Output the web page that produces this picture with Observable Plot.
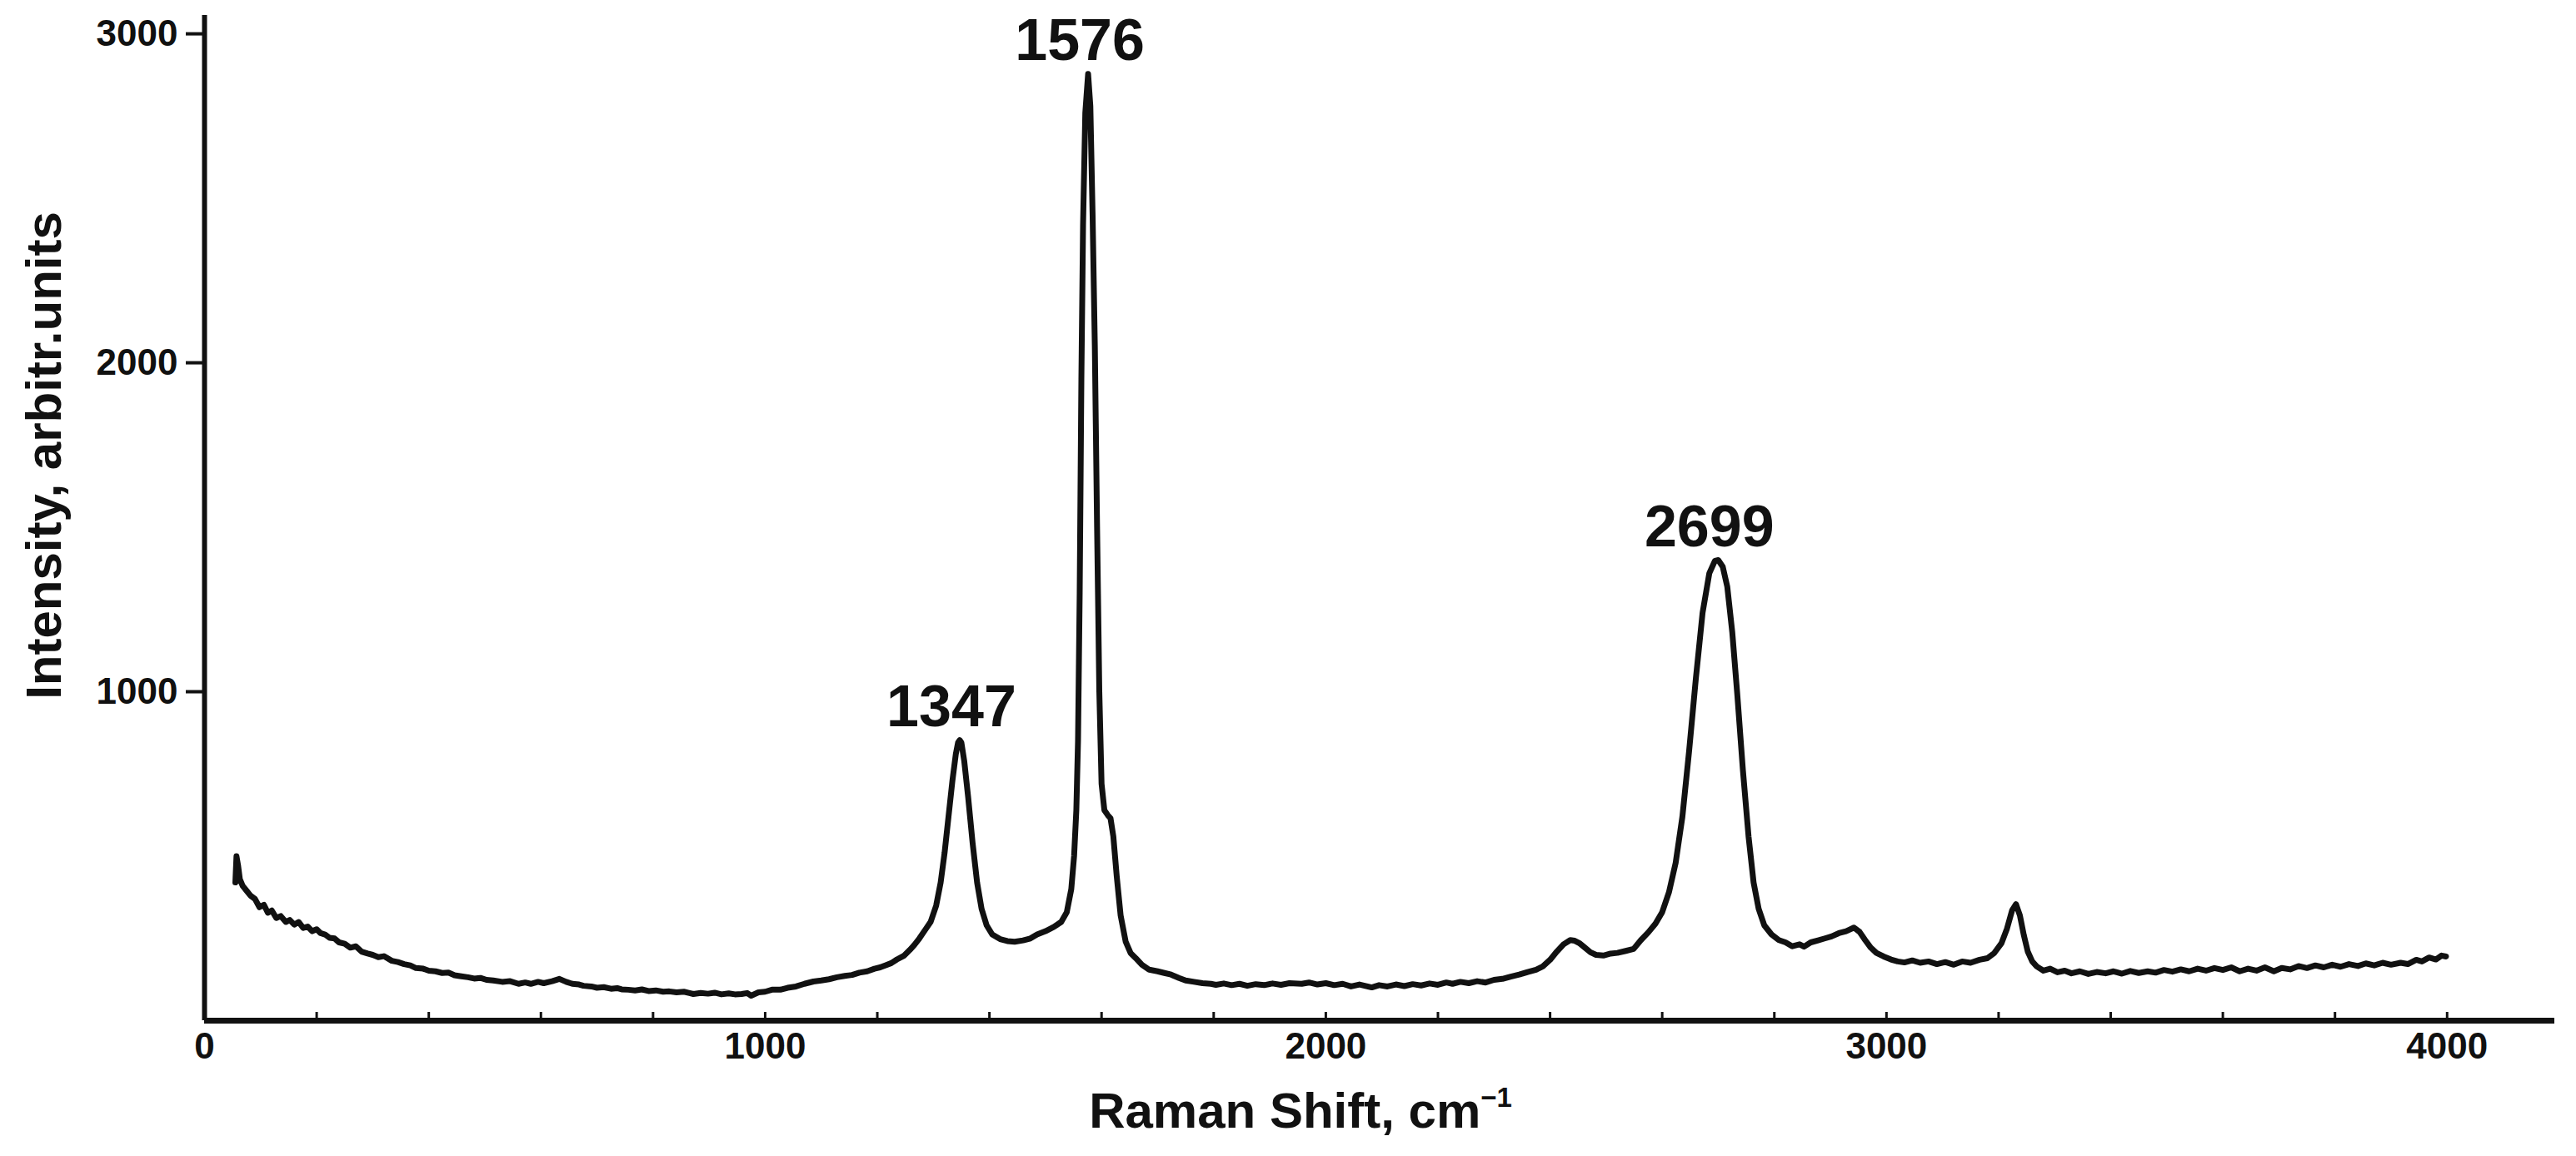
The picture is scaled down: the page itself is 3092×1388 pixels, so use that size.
<!DOCTYPE html>
<html>
<head>
<meta charset="utf-8">
<script src="https://cdn.jsdelivr.net/npm/d3@7"></script>
<script src="https://cdn.jsdelivr.net/npm/@observablehq/plot@0.6"></script>
<style>
  html, body { margin: 0; padding: 0; background: #fff; }
  #chart { width: 3092px; height: 1388px; }
</style>
</head>
<body>
<div id="chart"></div>
<script>
// Raman spectrum: [Raman shift (cm^-1), intensity (arbitr. units)]
const spectrum = [
  [55,420],[57,500],[60,470],[63,430],[68,410],[75,395],[82,380],[90,370],[98,345],[106,352],
  [113,328],[120,335],[128,312],[136,318],[145,300],[152,306],[160,292],[168,300],[176,282],[184,286],
  [192,272],[200,278],[207,266],[215,262],[223,252],[232,250],[240,238],[250,234],[260,222],[270,226],
  [280,210],[291,204],[300,200],[310,193],[320,196],[334,182],[345,178],[356,172],[367,168],[377,160],
  [390,158],[400,152],[412,150],[424,145],[435,146],[446,138],[458,135],[470,132],[481,128],[492,130],
  [503,124],[515,122],[531,118],[545,120],[560,112],[572,116],[582,112],[595,118],[605,114],[620,120],
  [633,127],[645,118],[656,112],[668,110],[676,106],[690,104],[700,100],[712,102],[725,97],[736,99],
  [744,95],[756,94],[768,92],[780,95],[792,90],[805,92],[818,88],[829,89],[842,86],[855,88],
  [865,84],[872,81],[885,84],[898,82],[910,85],[922,80],[935,83],[946,80],[958,81],[968,84],
  [975,76],[988,86],[1000,88],[1012,94],[1027,94],[1040,100],[1055,104],[1070,112],[1086,119],[1100,122],
  [1114,126],[1128,132],[1142,136],[1155,139],[1168,146],[1182,150],[1195,158],[1205,162],[1214,168],[1225,175],
  [1235,186],[1248,198],[1258,215],[1266,230],[1275,250],[1285,275],[1295,300],[1305,350],[1313,420],[1320,510],
  [1327,620],[1334,730],[1340,810],[1344,845],[1347,853],[1350,845],[1355,790],[1362,680],[1370,540],[1378,420],
  [1386,340],[1395,290],[1405,262],[1419,248],[1432,242],[1445,240],[1460,244],[1473,250],[1485,262],[1500,272],
  [1515,285],[1528,300],[1538,330],[1546,400],[1551,500],[1555,640],[1558,850],[1561,1300],[1564,1950],[1567,2420],
  [1571,2760],[1576,2878],[1580,2780],[1584,2450],[1588,2050],[1592,1500],[1596,1000],[1600,720],[1605,640],[1611,625],
  [1616,615],[1621,560],[1627,440],[1634,320],[1643,240],[1652,205],[1661,190],[1672,170],[1685,155],[1700,150],
  [1712,145],[1724,140],[1738,130],[1750,122],[1765,118],[1780,114],[1795,112],[1804,109],[1818,113],[1832,108],
  [1846,112],[1860,106],[1875,111],[1890,108],[1905,113],[1920,109],[1935,114],[1957,112],[1970,116],[1985,110],
  [2000,114],[2015,108],[2030,112],[2045,104],[2060,110],[2082,101],[2095,108],[2110,104],[2125,110],[2140,105],
  [2155,111],[2170,107],[2185,113],[2200,109],[2215,116],[2226,112],[2240,118],[2255,114],[2270,120],[2285,116],
  [2300,124],[2315,127],[2330,134],[2345,140],[2360,148],[2375,155],[2387,165],[2400,185],[2412,210],[2424,232],
  [2436,245],[2444,243],[2452,236],[2462,222],[2472,208],[2482,200],[2495,198],[2508,204],[2520,206],[2535,212],
  [2549,218],[2562,245],[2575,268],[2588,295],[2600,330],[2612,390],[2624,480],[2636,620],[2648,820],[2660,1040],
  [2672,1240],[2684,1360],[2694,1398],[2700,1400],[2708,1380],[2716,1320],[2725,1180],[2734,990],[2744,760],[2754,560],
  [2763,420],[2772,340],[2782,290],[2795,262],[2808,245],[2820,238],[2832,226],[2845,232],[2853,225],[2865,238],
  [2878,244],[2890,250],[2902,256],[2915,266],[2928,272],[2942,283],[2952,270],[2962,245],[2972,222],[2982,206],
  [2995,195],[3008,186],[3020,180],[3032,177],[3046,183],[3060,176],[3075,180],[3090,172],[3105,178],[3120,170],
  [3135,180],[3150,176],[3166,185],[3180,190],[3192,205],[3205,235],[3215,280],[3224,335],[3231,354],[3238,320],
  [3245,260],[3252,210],[3260,180],[3268,165],[3280,152],[3292,158],[3305,147],[3318,152],[3330,144],[3345,150],
  [3360,142],[3375,148],[3391,144],[3405,150],[3420,143],[3435,151],[3450,145],[3466,150],[3480,146],[3495,154],
  [3510,149],[3525,156],[3540,150],[3555,158],[3570,152],[3585,160],[3600,154],[3615,162],[3630,150],[3645,158],
  [3660,152],[3675,162],[3691,150],[3705,160],[3720,156],[3735,166],[3750,160],[3765,168],[3780,162],[3795,170],
  [3810,164],[3825,172],[3841,166],[3855,174],[3870,168],[3885,176],[3900,170],[3917,176],[3930,172],[3945,185],
  [3955,180],[3968,192],[3980,186],[3990,198],[3998,195]
];

// Peak annotations
const peakShift = [1347, 1576, 2699];
const peakIntensity = [853, 2878, 1400];
const peakLabel = ["1347", "1576", "2699"];

// Axis ticks
const xTickLabels = [0, 1000, 2000, 3000, 4000];
const xMinorTicks = d3.range(200, 4001, 200);
const yTickLabels = [1000, 2000, 3000];

const xTitle = "Raman Shift, cm";
const xTitleSup = "\u22121";
const yTitle = "Intensity, arbitr.units";

const data = spectrum.map(([x, y]) => ({x, y}));
const peaks = peakShift.map((x, i) => ({x, y: peakIntensity[i], label: peakLabel[i]}));

const W = 3092, H = 1388;
const mL = 245, mR = 26, mT = 18, mB = 163;
const frameH = H - mT - mB;

const plot = Plot.plot({
  width: W,
  height: H,
  marginLeft: mL,
  marginRight: mR,
  marginTop: mT,
  marginBottom: mB,
  style: {fontFamily: "'Liberation Sans', Arial, Helvetica, sans-serif", color: "#111", background: "#fff"},
  x: {domain: [0, 4192]},
  y: {domain: [0, 3056]},
  marks: [
    Plot.ruleX([0], {stroke: "#111", strokeWidth: 6}),
    Plot.ruleY([0], {stroke: "#111", strokeWidth: 7}),
    Plot.tickX(xMinorTicks, {x: d => d, stroke: "#111", strokeWidth: 3, insetTop: frameH - 10}),
    Plot.axisX({ticks: xTickLabels, tickSize: 0, tickPadding: 14, tickFormat: d3.format("d"),
      fontSize: 44, fontWeight: "bold", label: null}),
    Plot.axisY({ticks: yTickLabels, tickSize: 22, tickPadding: 10, tickFormat: d3.format("d"),
      fontSize: 44, fontWeight: "bold", strokeWidth: 4, label: null}),
    Plot.line(data, {x: "x", y: "y", stroke: "#111", strokeWidth: 7, strokeLinejoin: "round"}),
    Plot.text(peaks, {x: "x", y: "y", text: "label", dx: -10, dy: -17, lineAnchor: "bottom",
      fontSize: 70, fontWeight: "bold", fill: "#111"}),
    Plot.text([xTitle], {frameAnchor: "bottom", dx: -95, dy: 128, lineAnchor: "bottom", textAnchor: "middle",
      fontSize: 60, fontWeight: "bold", fill: "#111"}),
    Plot.text([yTitle], {frameAnchor: "left", rotate: -90, dx: -173, dy: -75, lineAnchor: "bottom", textAnchor: "middle",
      fontSize: 60, fontWeight: "bold", fill: "#111"})
  ]
});

// superscript for the x-axis title
d3.select(plot).selectAll("text").filter(function() { return this.textContent === xTitle; })
  .append("tspan").attr("dy", "-0.75em").attr("font-size", "0.55em").text(xTitleSup);

document.getElementById("chart").appendChild(plot);
</script>
</body>
</html>
